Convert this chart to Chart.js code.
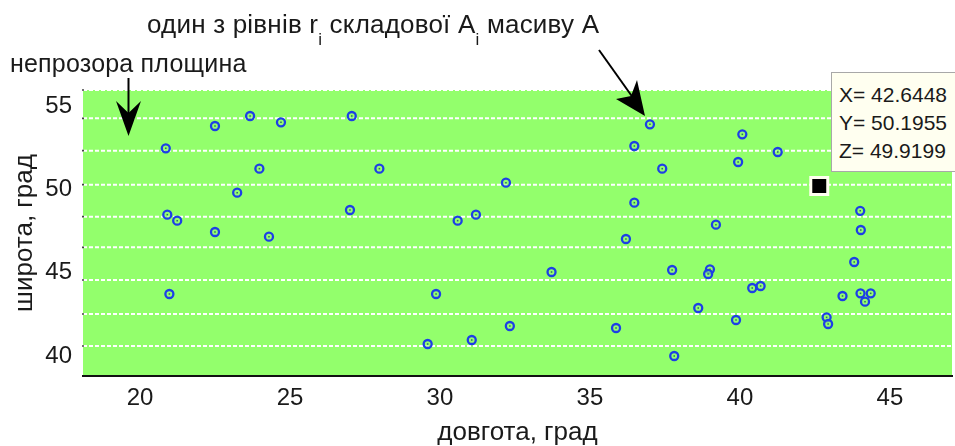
<!DOCTYPE html>
<html><head><meta charset="utf-8">
<script src="https://cdn.jsdelivr.net/npm/chart.js@4.4.1/dist/chart.umd.min.js"></script>
<style>
html,body{margin:0;padding:0;background:#fff;overflow:hidden}
#wrap{position:relative;width:955px;height:446px;overflow:hidden}
canvas{position:absolute;left:0;top:0}
.ann{position:absolute;font-family:"Liberation Sans",Arial,sans-serif;line-height:24px;color:#1a1a1a;white-space:nowrap}
.ann sub{font-size:17px;vertical-align:-12px;line-height:0}
#tip{position:absolute;left:831px;top:72px;width:140px;height:100px;background:#fffff0;border:1px solid #a8a8a8;box-sizing:border-box;padding:8px 0 0 7px;font-family:"Liberation Sans",Arial,sans-serif;font-size:21px;line-height:28px;color:#1a1a1a;white-space:nowrap}
svg{position:absolute;left:0;top:0}
</style></head>
<body>
<div id="wrap">
<canvas id="c" width="955" height="446"></canvas>
<div class="ann" style="left:10px;top:51px;font-size:25px;letter-spacing:0.2px">непрозора площина</div>
<div class="ann" style="left:147px;top:12px;font-size:26px;letter-spacing:0.2px">один з рівнів r<sub>i</sub> складової A<sub>i</sub> масиву A</div>
<svg width="955" height="446">
  <line x1="128.5" y1="78" x2="128.5" y2="120" stroke="#000" stroke-width="2"/>
  <polygon points="128.5,136 116,101 128.5,113 141,101" fill="#000"/>
  <line x1="599" y1="50" x2="636" y2="102" stroke="#000" stroke-width="2"/>
  <polygon points="645,116 616,99 631,96 637,80" fill="#000"/>
</svg>
<div id="tip">X= 42.6448<br>Y= 50.1955<br>Z= 49.9199</div>
</div>
<script>
const lon = [22.5,23.67,24.7,27.06,20.86,23.98,27.98,23.24,20.91,21.24,27.0,22.5,24.3,
  37.0,40.08,36.48,41.26,39.94,37.41,32.2,36.48,31.2,30.59,39.2,36.2,
  20.98,29.87,29.59,31.06,44.03,44.01,33.72,37.74,39.0,38.94,43.81,40.41,40.69,
  43.42,44.02,44.36,44.17,38.61,32.33,35.87,39.87,42.89,42.94,37.81];
const lat = [53.80,54.40,54.02,54.40,52.46,51.24,51.24,49.80,48.48,48.12,48.76,47.44,47.16,
  53.90,53.30,52.60,52.24,51.64,51.24,50.40,49.20,48.48,48.12,47.88,47.02,
  43.72,43.72,40.72,40.96,47.56,48.71,45.04,45.16,45.2,44.92,45.64,44.08,44.20,
  43.60,43.76,43.76,43.26,42.88,41.80,41.68,42.16,42.32,41.92,40.0];
const levels = [40.60,42.52,44.56,46.52,48.36,50.28,52.32,54.26,55.96];
const xTicks = [20,25,30,35,40,45];
const yTicks = [40,45,50,55];
const selX = [42.6448];
const selY = [50.1955];
const X_MIN = 18.1, X_MAX = 47.07, Y_MIN = 38.8, Y_MAX = 55.96;

const pts = lon.map((x,i)=>({x, y: lat[i]}));
const datasets = [
  {data: selX.map((x,i)=>({x, y: selY[i]})), pointStyle:'rect', pointRadius:12, pointBorderWidth:3,
   pointBorderColor:'#fffff0', pointBackgroundColor:'#000', order:0},
  {data: pts, pointStyle:'rect', pointRadius:1.1, pointBorderWidth:0, pointBackgroundColor:'#2c6a72', order:1},
  {data: pts, pointStyle:'circle', pointRadius:4, pointBorderWidth:2.3, pointBorderColor:'#1d3fe6',
   pointBackgroundColor:'rgba(150,255,110,0.6)', order:2},
  {data: levels.map(y=>({x:X_MIN, y})), pointStyle:'rect', pointRadius:1.2, pointBorderWidth:0,
   pointBackgroundColor:'#222', order:3, clip:false}
];
levels.forEach(L=>{
  datasets.push({data:[{x:X_MIN,y:L},{x:X_MAX,y:L}], showLine:true, pointRadius:0,
    borderColor:'#ffffff', borderWidth:2, borderDash:[4,2], order:10});
});

const bgPlugin = {
  id:'bg',
  beforeDraw(chart){
    const {ctx, chartArea:a} = chart;
    ctx.save(); ctx.fillStyle = '#93ff6c';
    ctx.fillRect(a.left, a.top, a.right-a.left, a.bottom-a.top);
    ctx.restore();
  }
};
const noPad = () => ({left:0, top:0, right:0, bottom:0});

new Chart(document.getElementById('c'), {
  type:'scatter',
  data:{datasets},
  plugins:[bgPlugin],
  options:{
    responsive:false, animation:false, devicePixelRatio:1,
    layout:{autoPadding:false, padding:{top:90,right:3,left:0,bottom:0}},
    plugins:{legend:{display:false}, tooltip:{enabled:false}},
    events:[],
    scales:{
      x:{type:'linear', min:X_MIN, max:X_MAX,
        afterBuildTicks(s){ s.ticks = xTicks.map(v=>({value:v})); },
        afterFit(s){ s.height = 70; s.paddingLeft = 0; s.paddingRight = 0; s.getPadding = noPad; },
        grid:{display:false, drawTicks:false},
        border:{display:true, color:'#111', width:2, dash:[3,2]},
        ticks:{padding:8, color:'#1a1a1a', font:{family:'"Liberation Sans", Arial', size:24}},
        title:{display:true, text:'довгота, град', color:'#1a1a1a', padding:{top:0,bottom:0},
          font:{family:'"Liberation Sans", Arial', size:26, lineHeight:1}}
      },
      y:{type:'linear', min:Y_MIN, max:Y_MAX,
        afterBuildTicks(s){ s.ticks = yTicks.map(v=>({value:v})); },
        afterFit(s){ s.width = 83; s.paddingTop = 0; s.paddingBottom = 0; s.getPadding = noPad; },
        grid:{display:false, drawTicks:false},
        border:{display:false},
        ticks:{padding:11, color:'#1a1a1a', font:{family:'"Liberation Sans", Arial', size:24}},
        title:{display:true, text:'широта, град', color:'#1a1a1a', padding:{top:12,bottom:0},
          font:{family:'"Liberation Sans", Arial', size:26, lineHeight:1}}
      }
    }
  }
});
</script>
</body></html>
